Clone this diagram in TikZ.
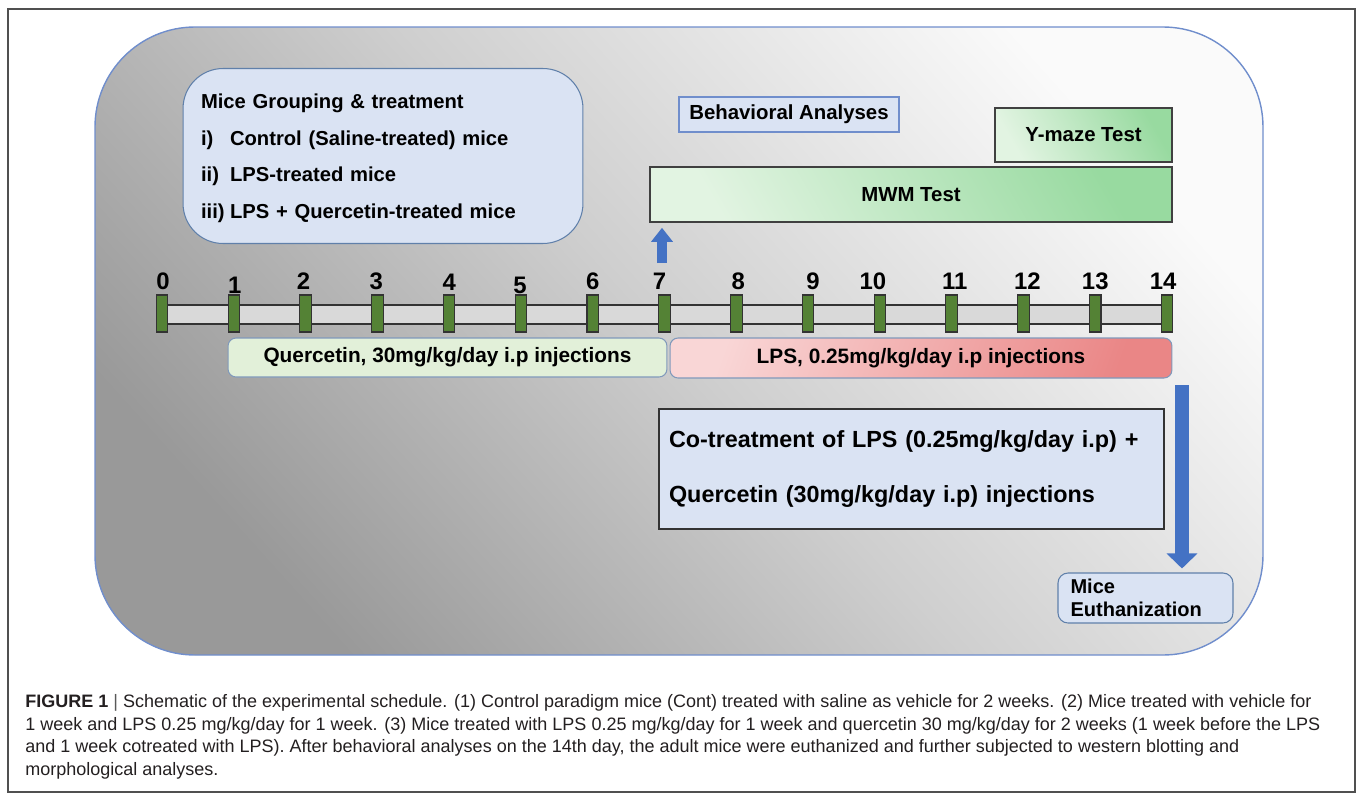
\documentclass[tikz,border=0pt]{standalone}
\usepackage{fontspec}
\setmainfont{Liberation Sans}
\usepackage{tikz}
\usetikzlibrary{arrows.meta}
\definecolor{panelblue}{RGB}{112,142,204}
\definecolor{framegray}{RGB}{80,80,80}
\definecolor{boxblue}{RGB}{218,227,243}
\definecolor{boxedge}{RGB}{96,128,170}
\definecolor{tickgreen}{RGB}{84,130,53}
\definecolor{bargray}{RGB}{217,217,217}
\definecolor{quergreen}{RGB}{226,240,217}
\definecolor{lightgreen}{RGB}{226,244,226}
\definecolor{testgreen}{RGB}{152,218,160}
\definecolor{lightpink}{RGB}{249,214,214}
\definecolor{darkpink}{RGB}{234,134,134}
\definecolor{arrowblue}{RGB}{68,114,196}
\definecolor{captext}{RGB}{35,31,32}

\begin{document}
\begin{tikzpicture}[x=0.02cm, y=-0.02cm,
		every node/.style={inner sep=0pt, font=\bfseries\fontsize{11.6}{13.9}\selectfont},
		infobox/.style={draw=boxedge, fill=boxblue, line width=0.6pt},
		testbox/.style={draw=black!75, line width=0.9pt, bottom color=lightgreen, top color=testgreen, shading angle=-60},
		dosebox/.style={draw=boxedge!80, line width=0.6pt, rounded corners=0.16cm, minimum height=0.78cm,
			font=\bfseries\fontsize{11.85}{14}\selectfont},
		daytick/.style={draw=black!80, fill=tickgreen, line width=0.6pt, minimum width=0.23cm, minimum height=0.74cm},
		daylabel/.style={font=\bfseries\fontsize{13.6}{13.6}\selectfont},
		bluearrow/.style={draw=arrowblue}]
	\useasboundingbox (0,0) rectangle (1357,798);
	\draw[framegray, line width=1pt] (8,9) rectangle (1355,792);

	%% ========================================================
	% grey panel
	\shadedraw[draw=panelblue, line width=0.8pt, rounded corners=2cm,
		bottom color=black!40, top color=black!2, middle color=black!19, shading angle=-48]
		(95,27) rectangle (1263,655);

	\node[infobox, rounded corners=0.8cm, minimum width=8cm, minimum height=3.5cm, text width=7.28cm, align=left,
		font=\bfseries\fontsize{11.5}{20.9}\selectfont] (groups) at (383,156)
		{\\[-10pt]Mice Grouping \& treatment\\
		 \makebox[0.58cm][l]{i)}Control (Saline-treated) mice\\
		 \makebox[0.58cm][l]{ii)}LPS-treated mice\\
		 \makebox[0.58cm][l]{iii)}LPS + Quercetin-treated mice};

	\node[infobox, draw=panelblue, minimum width=4.4cm, minimum height=0.7cm] (behav) at (789,114.5) {Behavioral Analyses};
	\node[testbox, minimum width=3.54cm, minimum height=1.08cm] (ymaze) at (1083.5,135) {Y-maze Test};
	\node[testbox, minimum width=10.44cm, minimum height=1.1cm] (mwm) at (911,194.5) {MWM Test};

	%% ========================================================
	% time line, days 0 to 14
	\draw[fill=bargray, draw=black!80, line width=0.6pt] (162,305) rectangle (1167,324);
	\foreach \i in {0,...,14}
		\node[daytick] (t\i) at ({162+71.79*\i},313.5) {};
	\foreach \i/\dx/\y in {0/1/281, 1/1/285, 2/-2/281, 3/-1/281, 4/0/282, 5/-1/285, 6/0/281, 7/-5/281,
			8/2/281, 9/5/281, 10/-7/281, 11/3/281, 12/4/281, 13/0/281, 14/-4/281}
		\node[daylabel] (d\i) at ({162+71.79*\i+\dx},\y) {\i};

	\node[dosebox, fill=quergreen, minimum width=8.78cm] (quer) at (447.5,357.5) {Quercetin, 30mg/kg/day i.p injections};
	\node[dosebox, top color=lightpink, bottom color=darkpink, shading angle=70, minimum width=10.04cm, minimum height=0.8cm] (lps) at (921,358) {LPS, 0.25mg/kg/day i.p injections};

	\node[infobox, draw=black!80, line width=0.9pt, minimum width=10.1cm, minimum height=2.4cm, text width=9.7cm, align=left,
		font=\bfseries\fontsize{13.3}{31.3}\selectfont] (cotreat) at (911.5,469)
		{Co-treatment of LPS (0.25mg/kg/day i.p) +\\ Quercetin (30mg/kg/day i.p) injections};

	\node[infobox, rounded corners=0.2cm, minimum width=3.5cm, minimum height=1cm, text width=3cm, align=left,
		font=\bfseries\fontsize{11.4}{13}\selectfont] (euth) at (1145.5,598) {Mice\\Euthanization};

	% block arrows
	\coordinate (upfoot) at (662,263);
	\draw[bluearrow, line width=0.2cm, -{Triangle[width=0.42cm,length=0.28cm]}, shorten >=0.1cm] (upfoot) -- (upfoot |- mwm.south);
	\coordinate (downtop) at (1182,385);
	\draw[bluearrow, line width=0.28cm, -{Triangle[width=0.6cm,length=0.3cm]}, shorten >=0.08cm] (downtop) -- (downtop |- euth.north);
	%% ========================================================

	\node[anchor=north west, align=left, text=captext, font=\fontsize{10.25}{12.86}\selectfont] (caption) at (25,694)
		{\textbf{FIGURE 1} \textcolor{black!65}{|} Schematic of the experimental schedule. (1) Control paradigm mice (Cont) treated with saline as vehicle for 2 weeks. (2) Mice treated with vehicle for\\
		1 week and LPS 0.25 mg/kg/day for 1 week. (3) Mice treated with LPS 0.25 mg/kg/day for 1 week and quercetin 30 mg/kg/day for 2 weeks (1 week before the LPS\\
		and 1 week cotreated with LPS). After behavioral analyses on the 14th day, the adult mice were euthanized and further subjected to western blotting and\\
		morphological analyses.};
\end{tikzpicture}
\end{document}
